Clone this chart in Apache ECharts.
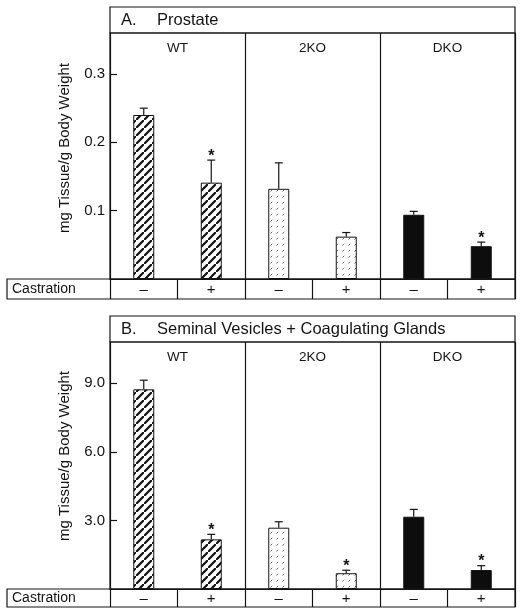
<!DOCTYPE html>
<html><head><meta charset="utf-8">
<script src="https://cdn.jsdelivr.net/npm/echarts/dist/echarts.min.js"></script>
<style>html,body{margin:0;padding:0;background:#fff}#c{width:524px;height:616px}</style>
</head><body><div id="c"></div>
<script>
// ---- data ----
const castration = ['–', '+', '–', '+', '–', '+'];
const genotypes = ['WT', '2KO', 'DKO'];
const prostateMean = [0.240, 0.141, 0.132, 0.062, 0.094, 0.048];
const prostateSem  = [0.010, 0.033, 0.038, 0.006, 0.005, 0.006];
const prostateSig  = [0, 1, 0, 0, 0, 1];
const svMean = [8.73, 2.17, 2.68, 0.69, 3.16, 0.83];
const svSem  = [0.40, 0.22, 0.26, 0.13, 0.32, 0.19];
const svSig  = [0, 1, 0, 1, 0, 1];
const prostateAxis = { min: 0, max: 0.36, interval: 0.1 };
const svAxis = { min: 0, max: 10.8, interval: 3 };
const panelTitles = [['A.', 'Prostate'], ['B.', 'Seminal Vesicles + Coagulating Glands']];
const yTitle = 'mg Tissue/g Body Weight';
const rowLabel = 'Castration';

// ---- styles ----
const FONT = "'Liberation Sans', Arial, sans-serif";
const INK = '#141414';
function makeHatch() {
  const s = 8;
  const c = document.createElement('canvas'); c.width = s; c.height = s;
  const g = c.getContext('2d'); g.fillStyle = '#fff'; g.fillRect(0, 0, s, s);
  g.strokeStyle = '#111'; g.lineWidth = 2.2;
  g.beginPath();
  g.moveTo(-1, s + 1); g.lineTo(s + 1, -1);
  g.moveTo(-s - 1, 1); g.lineTo(1, -s - 1);
  g.moveTo(s - 1, 2 * s + 1); g.lineTo(2 * s + 1, s - 1);
  g.stroke();
  return c;
}
function makeDots() {
  const s = 6;
  const c = document.createElement('canvas'); c.width = s; c.height = s;
  const g = c.getContext('2d'); g.fillStyle = '#fff'; g.fillRect(0, 0, s, s);
  g.strokeStyle = '#666'; g.lineWidth = 1;
  g.beginPath(); g.moveTo(0.5, 5.5); g.lineTo(2.2, 3.8); g.stroke();
  return c;
}
const groupFills = [
  { image: makeHatch(), repeat: 'repeat' },
  { image: makeDots(), repeat: 'repeat' },
  '#0d0d0d'
];

const grids = [
  { left: 110, top: 33, width: 405, height: 246 },
  { left: 110, top: 342, width: 405, height: 247 }
];
const rowH = [20, 18];
const headerTop = [7, 316];

function barSeries(idx, mean) {
  return {
    type: 'bar', xAxisIndex: idx, yAxisIndex: idx, barWidth: 21, z: 3,
    data: mean.map((v, i) => ({ value: v, itemStyle: { color: groupFills[Math.floor(i / 2)] } })),
    itemStyle: { borderColor: INK, borderWidth: 1 },
    emphasis: { disabled: true }, animation: false
  };
}
function errSeries(idx, mean, sem, sig) {
  return {
    type: 'custom', xAxisIndex: idx, yAxisIndex: idx, z: 5, animation: false,
    data: mean.map((m, i) => [i, m, m + sem[i], sig[i]]),
    encode: { x: 0, y: 2 },
    renderItem(params, api) {
      const x = api.value(0);
      const lo = api.coord([x, api.value(1)]);
      const hi = api.coord([x, api.value(2)]);
      const ch = [
        { type: 'line', shape: { x1: lo[0], y1: lo[1], x2: hi[0], y2: hi[1] }, style: { stroke: INK, lineWidth: 1.2 } },
        { type: 'line', shape: { x1: hi[0] - 4, y1: hi[1], x2: hi[0] + 4, y2: hi[1] }, style: { stroke: INK, lineWidth: 1.2 } }
      ];
      if (api.value(3)) {
        ch.push({ type: 'text', x: hi[0], y: hi[1] - 4,
          style: { text: '*', fill: INK, font: "bold 16px " + FONT, align: 'center', verticalAlign: 'middle' } });
      }
      return { type: 'group', children: ch };
    }
  };
}
function xBottom(gi) {
  return {
    type: 'category', gridIndex: gi, data: castration, position: 'bottom',
    axisLine: { show: true, lineStyle: { color: INK, width: 1.2 } },
    axisTick: { show: true, alignWithLabel: false, inside: false, length: rowH[gi], lineStyle: { color: INK, width: 1.2 } },
    axisLabel: { show: true, margin: gi === 0 ? 3 : 2, fontSize: 15, color: INK, fontFamily: FONT, interval: 0 },
    splitLine: { show: true, interval: (i) => i === 2 || i === 4, lineStyle: { color: INK, width: 1.2 } }
  };
}
function xTop(gi) {
  return {
    type: 'category', gridIndex: gi, data: genotypes, position: 'top',
    axisLine: { show: false }, axisTick: { show: false }, splitLine: { show: false },
    axisLabel: { show: true, inside: true, margin: 8, fontSize: 13.5, color: INK, fontFamily: FONT }
  };
}
function yAx(gi, ax) {
  return {
    type: 'value', gridIndex: gi, min: ax.min, max: ax.max, interval: ax.interval,
    axisLine: { show: true, lineStyle: { color: INK, width: 1.2 } },
    axisTick: { show: true, inside: true, length: 7, lineStyle: { color: INK, width: 1.2 } },
    axisLabel: { show: true, showMinLabel: false, showMaxLabel: false, margin: 5, fontSize: 15, color: INK, fontFamily: FONT,
      formatter: (v) => v.toFixed(1) },
    splitLine: { show: false }
  };
}

const graphic = [];
const yTitleCenters = [148, 456];
[0, 1].forEach((gi) => {
  const g = grids[gi];
  graphic.push({ type: 'rect', shape: { x: g.left, y: headerTop[gi], width: g.width, height: g.top - headerTop[gi] },
    style: { fill: 'none', stroke: INK, lineWidth: 1.2 } });
  const cy = (headerTop[gi] + g.top) / 2;
  graphic.push({ type: 'text', x: 121, y: cy, style: { text: panelTitles[gi][0], font: '16.5px ' + FONT, fill: INK, verticalAlign: 'middle' } });
  graphic.push({ type: 'text', x: 157, y: cy, style: { text: panelTitles[gi][1], font: '16.5px ' + FONT, fill: INK, verticalAlign: 'middle' } });
  const rowTop = g.top + g.height;
  graphic.push({ type: 'rect', shape: { x: 7, y: rowTop, width: g.left + g.width - 7, height: rowH[gi] },
    style: { fill: 'none', stroke: INK, lineWidth: 1.2 } });
  graphic.push({ type: 'text', x: 12, y: rowTop + rowH[gi] / 2 + 0.5, style: { text: rowLabel, font: '14px ' + FONT, fill: INK, verticalAlign: 'middle' } });
  graphic.push({ type: 'text', x: 65, y: yTitleCenters[gi], rotation: Math.PI / 2,
    style: { text: yTitle, font: '15px ' + FONT, fill: INK, align: 'center', verticalAlign: 'middle' } });
});

const chart = echarts.init(document.getElementById('c'), null, { renderer: 'canvas' });
chart.setOption({
  backgroundColor: '#fff',
  animation: false,
  grid: grids.map(g => Object.assign({ show: true, borderColor: INK, borderWidth: 1.2, backgroundColor: 'transparent', containLabel: false, outerBoundsMode: 'none' }, g)),
  xAxis: [xBottom(0), xBottom(1), xTop(0), xTop(1)],
  yAxis: [yAx(0, prostateAxis), yAx(1, svAxis)],
  series: [
    barSeries(0, prostateMean), errSeries(0, prostateMean, prostateSem, prostateSig),
    barSeries(1, svMean), errSeries(1, svMean, svSem, svSig)
  ],
  graphic
});
</script></body></html>
